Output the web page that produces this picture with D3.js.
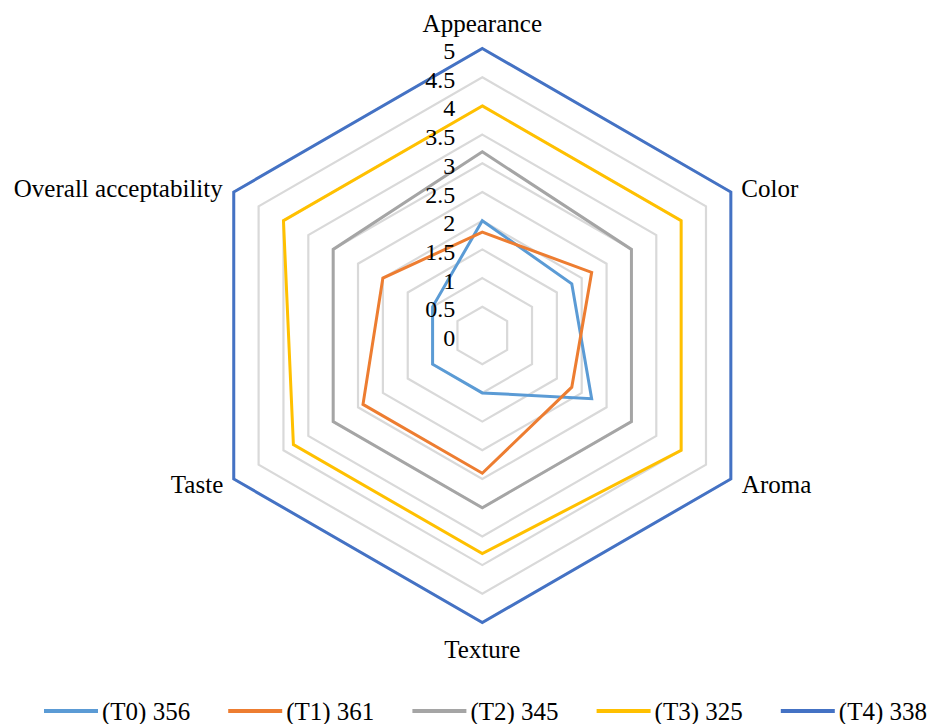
<!DOCTYPE html>
<html><head><meta charset="utf-8">
<script src="https://cdn.jsdelivr.net/npm/d3@7"></script>
<style>
html,body{margin:0;padding:0;background:#fff;}
svg{display:block;}
</style></head>
<body>
<svg id="chart" width="931" height="724" font-family="'Liberation Serif', 'Times New Roman', Times, serif"></svg>
<script>
const axes = ["Appearance","Color","Aroma","Texture","Taste","Overall acceptability"];
const seriesNames = ["(T0) 356","(T1) 361","(T2) 345","(T3) 325","(T4) 338"];
const seriesColors = ["#5B9BD5","#ED7D31","#A5A5A5","#FFC000","#4472C4"];
const T0 = [2.0, 1.8, 2.2, 1.0, 1.0, 1.0];
const T1 = [1.8, 2.2, 1.8, 2.4, 2.4, 2.0];
const T2 = [3.2, 3.0, 3.0, 3.0, 3.0, 3.0];
const T3 = [4.0, 4.0, 4.0, 3.8, 3.8, 4.0];
const T4 = [5.0, 5.0, 5.0, 5.0, 5.0, 5.0];
const seriesValues = [T0, T1, T2, T3, T4];
const tickValues = [0, 0.5, 1, 1.5, 2, 2.5, 3, 3.5, 4, 4.5, 5];
const tickLabels = ["0","0.5","1","1.5","2","2.5","3","3.5","4","4.5","5"];

const FONT = "'Liberation Serif', 'Times New Roman', Times, serif";
const svg = d3.select("#chart");
const cx = 482.3, cy = 335.5, R = 287;
const r = d3.scaleLinear().domain([0, 5]).range([0, R]);
const ang = i => i * 2 * Math.PI / axes.length;

const g = svg.append("g").attr("transform", `translate(${cx},${cy})`);

// grid hexagons
const radial = d3.lineRadial().curve(d3.curveLinearClosed).angle((d,i)=>ang(i)).radius(d=>r(d));
g.append("g").selectAll("path").data(tickValues.filter(v=>v>0)).join("path")
  .attr("d", v => radial(axes.map(()=>v)))
  .attr("fill","none").attr("stroke","#d9d9d9").attr("stroke-width",2.2);

// series
g.append("g").selectAll("path").data(seriesValues).join("path")
  .attr("d", d => radial(d))
  .attr("fill","none")
  .attr("stroke",(d,i)=>seriesColors[i])
  .attr("stroke-width",3)
  .attr("stroke-linejoin","miter");

// tick labels
g.append("g").selectAll("text").data(tickValues).join("text")
  .attr("x", -27)
  .attr("y", v => -r(v) + 10.5)
  .attr("text-anchor","end")
  .attr("font-family", FONT)
  .attr("font-size", 24)
  .text((v,i)=>tickLabels[i]);

// axis labels
const labelPos = [
  {dx:0, dy:-17, anchor:"middle"},
  {dx:10.5, dy:4.5, anchor:"start"},
  {dx:11, dy:14, anchor:"start"},
  {dx:0, dy:35, anchor:"middle"},
  {dx:-10.5, dy:14, anchor:"end"},
  {dx:-11, dy:4.5, anchor:"end"}
];
g.append("g").selectAll("text").data(axes).join("text")
  .attr("x",(d,i)=> r(5)*Math.sin(ang(i)) + labelPos[i].dx)
  .attr("y",(d,i)=> -r(5)*Math.cos(ang(i)) + labelPos[i].dy)
  .attr("text-anchor",(d,i)=>labelPos[i].anchor)
  .attr("font-family", FONT)
  .attr("font-size", 25)
  .text(d=>d);

// legend
const leg = svg.append("g").attr("transform","translate(44,711)");
const lx = d3.scaleLinear().domain([0,1]).range([0,184.2]);
const items = leg.selectAll("g").data(seriesNames).join("g")
  .attr("transform",(d,i)=>`translate(${lx(i)},0)`);
items.append("line").attr("x1",0).attr("x2",54).attr("y1",0).attr("y2",0)
  .attr("stroke",(d,i)=>seriesColors[i]).attr("stroke-width",4);
items.append("text").attr("x",58).attr("y",8.5)
  .attr("font-family", FONT).attr("font-size", 25).text(d=>d);
</script>
</body></html>
